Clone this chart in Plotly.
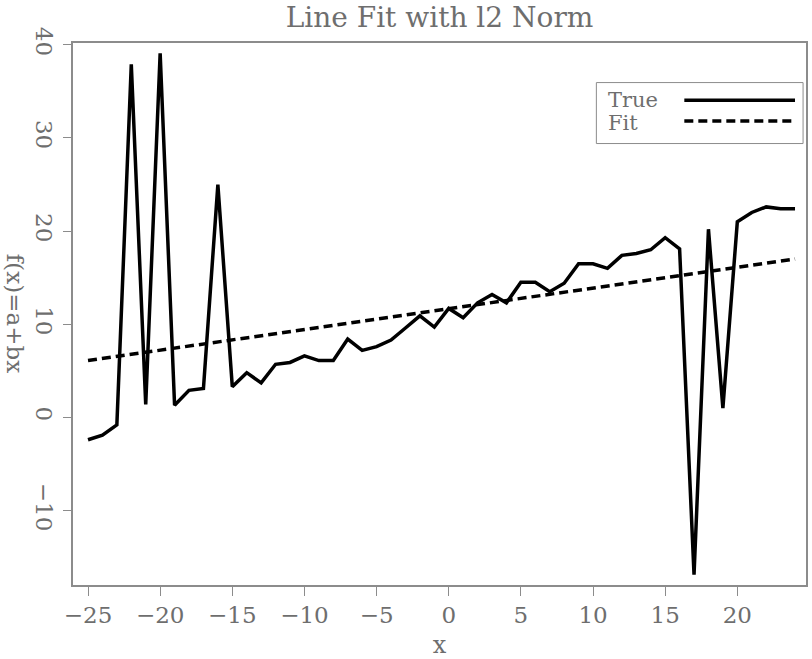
import plotly.graph_objects as go

x_vals = list(range(-25, 25))
true_vals = [-2.4, -1.9, -0.8, 37.9, 1.4, 39.1, 1.3, 2.9, 3.1, 25.0,
             3.3, 4.8, 3.7, 5.7, 5.9, 6.6, 6.1, 6.1, 8.4, 7.2,
             7.6, 8.3, 9.6, 10.9, 9.7, 11.7, 10.7, 12.3, 13.2, 12.3,
             14.5, 14.5, 13.5, 14.4, 16.5, 16.5, 16.0, 17.4, 17.6, 18.0,
             19.3, 18.1, -16.9, 20.2, 1.0, 21.0, 22.0, 22.6, 22.4, 22.4]
fit_x = [-25, 24]
fit_y = [6.1, 17.0]

x_ticks = [-25, -20, -15, -10, -5, 0, 5, 10, 15, 20]
y_ticks = [-10, 0, 10, 20, 30, 40]

FONT = "DejaVu Serif"
TXT = "#6e6e6e"
AX = "#8c8c8c"

fig = go.Figure()
fig.add_trace(go.Scatter(x=x_vals, y=true_vals, mode="lines", name="True",
                         line=dict(color="black", width=3.5)))
fig.add_trace(go.Scatter(x=fit_x, y=fit_y, mode="lines", name="Fit",
                         line=dict(color="black", width=3.5, dash="9px,5px")))

fig.update_layout(
    width=812, height=659,
    margin=dict(l=73, r=4, t=43, b=66),
    paper_bgcolor="white", plot_bgcolor="white",
    showlegend=False,
    title=dict(text="Line Fit with l2 Norm", x=0.5, xref="paper",
               y=1 - 17 / 659, yref="container", yanchor="middle", xanchor="center",
               font=dict(family=FONT, size=28, color=TXT)),
    font=dict(family=FONT, color=TXT),
)
fig.update_xaxes(range=[-26.04, 24.76], tickvals=x_ticks, ticks="outside", ticklen=9,
                 tickcolor=AX, tickwidth=1, showline=True, linecolor=AX, linewidth=1.5,
                 mirror=True, showgrid=False, zeroline=False,
                 tickfont=dict(family=FONT, size=23, color=TXT),
                 title=dict(text="x", font=dict(family=FONT, size=24, color=TXT), standoff=10))
fig.update_yaxes(range=[-18.0, 40.2], tickvals=y_ticks, ticks="outside", ticklen=8,
                 tickcolor=AX, tickwidth=1, showline=True, linecolor=AX, linewidth=1.5,
                 mirror=True, showgrid=False, zeroline=False, tickangle=90,
                 tickfont=dict(family=FONT, size=23, color=TXT))

# y-axis title reading top-to-bottom
fig.add_annotation(text="f(x)=a+bx", xref="paper", yref="paper",
                   x=-58 / 735, y=(593 - 317) / 550, showarrow=False,
                   textangle=90, font=dict(family=FONT, size=23, color=TXT),
                   xanchor="center", yanchor="middle")

# legend box (text left, line sample right)
fig.add_shape(type="rect", xref="paper", yref="paper",
              x0=0.714, x1=0.996, y0=0.8145, y1=0.927,
              line=dict(color=AX, width=1), fillcolor="white")
fig.add_annotation(text="True", xref="paper", yref="paper", x=0.7265, y=0.894,
                   xanchor="left", yanchor="middle", showarrow=False,
                   font=dict(family=FONT, size=21, color=TXT))
fig.add_annotation(text="Fit", xref="paper", yref="paper", x=0.7265, y=0.852,
                   xanchor="left", yanchor="middle", showarrow=False,
                   font=dict(family=FONT, size=21, color=TXT))
fig.add_shape(type="line", xref="paper", yref="paper", x0=0.834, x1=0.985,
              y0=0.8945, y1=0.8945, line=dict(color="black", width=3.5))
fig.add_shape(type="line", xref="paper", yref="paper", x0=0.834, x1=0.985,
              y0=0.856, y1=0.856, line=dict(color="black", width=3.5, dash="9px,5px"))

fig.write_html("out.html")
